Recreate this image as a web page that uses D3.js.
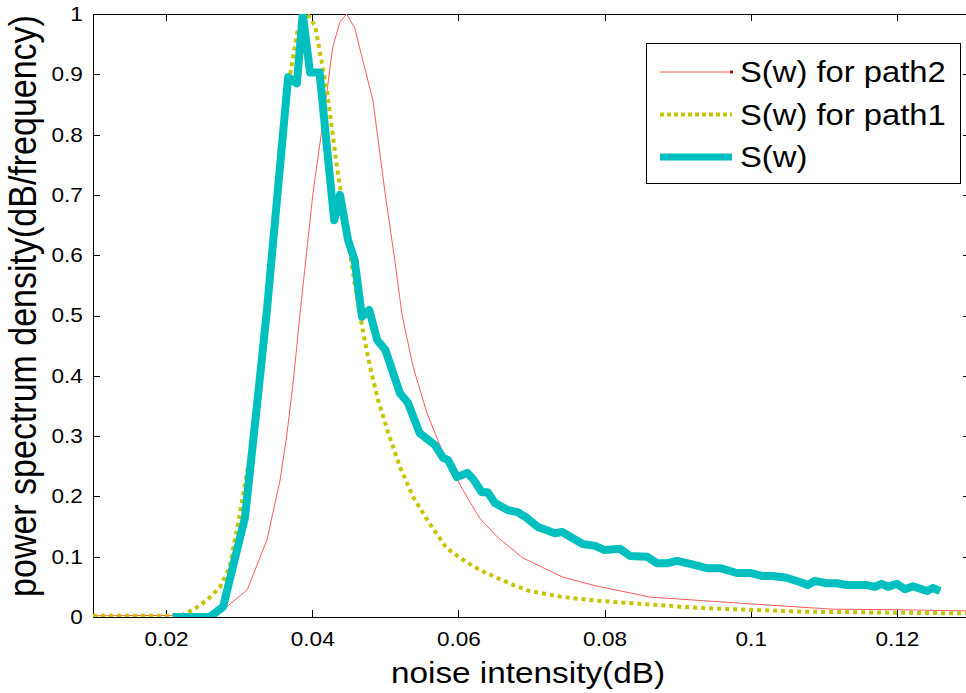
<!DOCTYPE html>
<html>
<head>
<meta charset="utf-8">
<script src="https://cdn.jsdelivr.net/npm/d3@7"></script>
<style>
  html, body { margin: 0; padding: 0; background: #fff; }
  svg { display: block; font-family: "Liberation Sans", Arial, sans-serif; }
  .axis path, .axis line { stroke: #000; stroke-width: 1; shape-rendering: crispEdges; }
  .axis text { fill: #000; font-size: 20px; }
</style>
</head>
<body>
<div id="chart"></div>
<script>
// S(w) (thick cyan)
var swX = [0.0209, 0.026, 0.0278, 0.0308, 0.0327, 0.0338, 0.0367, 0.0379, 0.0387, 0.0397, 0.041,
  0.043, 0.0438, 0.0449, 0.0458, 0.0468, 0.0478, 0.0489, 0.050, 0.052, 0.0531, 0.0547, 0.0568,
  0.0579, 0.0586, 0.0598, 0.0612, 0.062, 0.0632, 0.064, 0.065, 0.0668, 0.0681, 0.0694, 0.0709,
  0.0721, 0.0732, 0.0742, 0.0753, 0.077, 0.0787, 0.080, 0.0821, 0.0835, 0.0858, 0.0872, 0.0885,
  0.0899, 0.0917, 0.094, 0.0958, 0.0981, 0.0999, 0.1015, 0.103, 0.1049, 0.1067, 0.1078, 0.1088,
  0.1104, 0.1118, 0.1131, 0.1159, 0.117, 0.1179, 0.1188, 0.12, 0.1211, 0.1222, 0.1241, 0.1249, 0.1259];
var swY = [0, 0, 0.017, 0.165, 0.381, 0.509, 0.895, 0.885, 1.0, 0.903, 0.903,
  0.658, 0.70, 0.625, 0.592, 0.498, 0.509, 0.459, 0.443, 0.371, 0.355, 0.305, 0.285,
  0.264, 0.26, 0.232, 0.239, 0.229, 0.207, 0.207, 0.189, 0.177, 0.174, 0.164, 0.149,
  0.144, 0.139, 0.141, 0.133, 0.121, 0.118, 0.111, 0.113, 0.101, 0.100, 0.089, 0.089,
  0.093, 0.088, 0.081, 0.081, 0.073, 0.073, 0.068, 0.068, 0.065, 0.058, 0.053, 0.060,
  0.056, 0.056, 0.053, 0.053, 0.050, 0.055, 0.050, 0.055, 0.046, 0.051, 0.043, 0.048, 0.043];

// S(w) for path1 (dotted yellow)
var p1X = [0.01, 0.022, 0.0237, 0.0256, 0.0274, 0.0287, 0.0301, 0.0315, 0.033, 0.0345, 0.0358,
  0.0367, 0.038, 0.0393, 0.0404, 0.0413, 0.042, 0.0427, 0.0434, 0.0441, 0.0452, 0.0461, 0.047,
  0.048, 0.049, 0.0504, 0.052, 0.0538, 0.056, 0.0584, 0.0606, 0.0629, 0.0653, 0.0675, 0.0698,
  0.0743, 0.079, 0.0835, 0.093, 0.1067, 0.1204, 0.13];
var p1Y = [0.002, 0.002, 0.012, 0.028, 0.05, 0.083, 0.172, 0.27, 0.43, 0.62, 0.79,
  0.88, 0.973, 1.0, 0.98, 0.92, 0.874, 0.81, 0.745, 0.69, 0.60, 0.53, 0.47,
  0.41, 0.36, 0.305, 0.249, 0.199, 0.156, 0.114, 0.095, 0.078, 0.065, 0.053, 0.043,
  0.033, 0.027, 0.023, 0.015, 0.009, 0.007, 0.006];

// S(w) for path2 (thin red)
var p2X = [0.01, 0.026, 0.0283, 0.0311, 0.0338, 0.0356, 0.0365, 0.0374, 0.0383, 0.0401, 0.0415,
  0.0428, 0.0438, 0.0447, 0.0458, 0.0469, 0.0483, 0.050, 0.0512, 0.0523, 0.0538, 0.0557, 0.0579,
  0.0606, 0.0629, 0.0653, 0.0688, 0.0743, 0.079, 0.0835, 0.0862, 0.1022, 0.1112, 0.1204, 0.13];
var p2Y = [0.002, 0.003, 0.017, 0.045, 0.128, 0.227, 0.30, 0.39, 0.50, 0.703, 0.824,
  0.945, 0.987, 1.0, 0.977, 0.924, 0.857, 0.70, 0.60, 0.50, 0.415, 0.338, 0.272,
  0.211, 0.164, 0.133, 0.098, 0.066, 0.051, 0.04, 0.033, 0.02, 0.013, 0.012, 0.01];

var xTicks = [0.02, 0.04, 0.06, 0.08, 0.1, 0.12];
var yTicks = [0, 0.1, 0.2, 0.3, 0.4, 0.5, 0.6, 0.7, 0.8, 0.9, 1];
var legendLabels = ["S(w) for path2", "S(w) for path1", "S(w)"];

(function(d3) {
  var
  W      = 966,
  H      = 693,
  stretch = 1.13, // the picture is a little wider than tall in its text
  margin = { top: 14, left: 93 },
  width  = 877,   // plot runs past the right edge of the picture
  height = 603
  ;

  var svg = d3.select("#chart").append("svg")
      .attr("width", W)
      .attr("height", H);

  var g = svg.append("g")
      .attr("transform", "translate(" + margin.left + "," + margin.top + ")");

  var x = d3.scaleLinear().domain([0.01, 0.13]).range([0, width]);
  var y = d3.scaleLinear().domain([0, 1]).range([height, 0]);

  g.append("rect").attr("width", width).attr("height", height).attr("fill", "#fff");

  // Axes, ticks pointing inward on all four sides
  g.append("g").attr("class", "axis")
      .attr("transform", "translate(0," + height + ")")
      .call(d3.axisBottom(x).tickValues(xTicks).tickSize(-7).tickSizeOuter(0).tickPadding(15)
        .tickFormat(d3.format("")));
  g.append("g").attr("class", "axis")
      .call(d3.axisTop(x).tickValues(xTicks).tickSize(-7).tickSizeOuter(0).tickFormat(""));
  g.append("g").attr("class", "axis")
      .call(d3.axisLeft(y).tickValues(yTicks).tickSize(-7).tickSizeOuter(0).tickPadding(9)
        .tickFormat(d3.format("")));
  g.append("g").attr("class", "axis")
      .attr("transform", "translate(" + width + ",0)")
      .call(d3.axisRight(y).tickValues(yTicks).tickSize(-7).tickSizeOuter(0).tickFormat(""));

  g.selectAll(".axis text").attr("transform", "scale(" + stretch + ",1)");

  // Series
  g.append("clipPath").attr("id", "plot")
    .append("rect").attr("width", width).attr("height", height);

  var line = d3.line()
      .x(function(d) { return x(d[0]); })
      .y(function(d) { return y(d[1]); });

  var lines = g.append("g").attr("clip-path", "url(#plot)");

  lines.append("path")
      .datum(d3.zip(p2X, p2Y))
      .attr("d", line)
      .attr("fill", "none")
      .attr("stroke", "#ff5a5a")
      .attr("stroke-width", 1);

  lines.append("path")
      .datum(d3.zip(p1X, p1Y))
      .attr("d", line)
      .attr("fill", "none")
      .attr("stroke", "#c4c400")
      .attr("stroke-width", 4)
      .attr("stroke-dasharray", "4,4");

  lines.append("path")
      .datum(d3.zip(swX, swY))
      .attr("d", line)
      .attr("fill", "none")
      .attr("stroke", "#00bfbf")
      .attr("stroke-width", 8)
      .attr("stroke-linejoin", "round");

  // Axis labels
  svg.append("text")
      .attr("transform", "translate(528,683) scale(" + stretch + ",1)")
      .attr("text-anchor", "middle")
      .style("font-size", "29.5px")
      .text("noise intensity(dB)");

  svg.append("text")
      .attr("transform", "translate(36,306) scale(" + stretch + ",1) rotate(-90)")
      .attr("text-anchor", "middle")
      .style("font-size", "34px")
      .text("power spectrum density(dB/frequency)");

  // Legend
  var legend = svg.append("g").attr("transform", "translate(646,43)");

  legend.append("rect")
      .attr("width", 314)
      .attr("height", 140)
      .attr("fill", "#fff")
      .attr("stroke", "#000")
      .attr("stroke-width", 1)
      .attr("shape-rendering", "crispEdges");

  var styles = [
    { stroke: "#ff5a5a", width: 1, dash: null },
    { stroke: "#c4c400", width: 4, dash: "4,3" },
    { stroke: "#00bfbf", width: 7, dash: null }
  ];

  var items = legend.selectAll("g.item")
      .data(legendLabels)
    .enter().append("g")
      .attr("class", "item")
      .attr("transform", function(d, i) { return "translate(0," + (29 + i * 42.5) + ")"; });

  items.append("line")
      .attr("x1", 14).attr("x2", 86)
      .attr("stroke", function(d, i) { return styles[i].stroke; })
      .attr("stroke-width", function(d, i) { return styles[i].width; })
      .attr("stroke-dasharray", function(d, i) { return styles[i].dash; });

  // small dark end mark on the path2 sample, as in the original
  items.filter(function(d, i) { return i === 0; })
    .append("rect")
      .attr("x", 84).attr("y", -1.5)
      .attr("width", 3).attr("height", 3)
      .attr("fill", "#c00000");

  items.append("text")
      .attr("transform", "translate(94,0) scale(" + stretch + ",1)")
      .attr("dy", "0.35em")
      .style("font-size", "29px")
      .text(function(d) { return d; });
})(d3);
</script>
</body>
</html>
